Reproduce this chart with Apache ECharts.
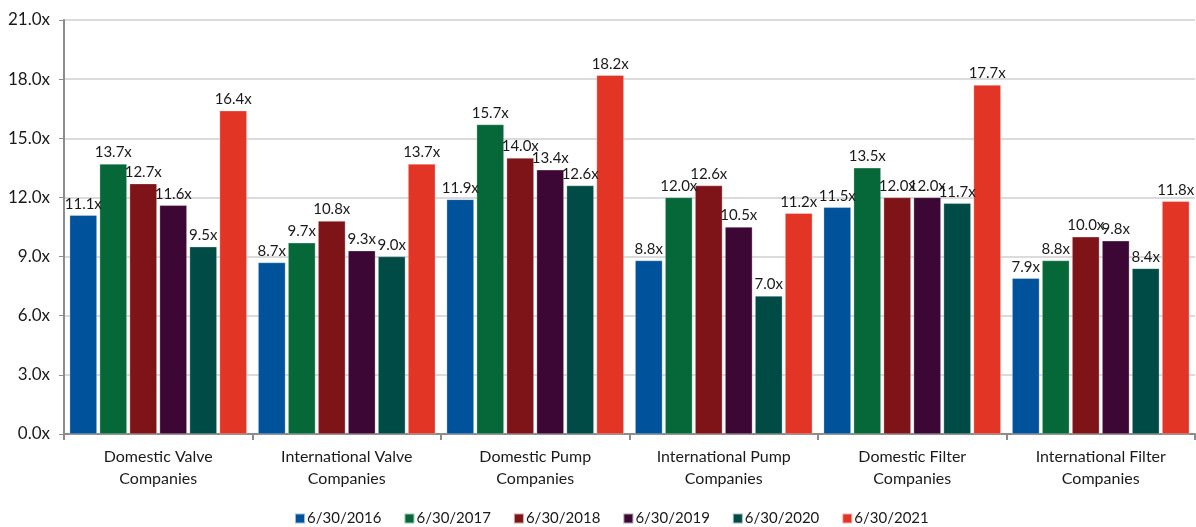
<!DOCTYPE html>
<html>
<head>
<meta charset="utf-8">
<script src="https://cdn.jsdelivr.net/npm/echarts@6/dist/echarts.min.js"></script>
<style>
  html, body { margin: 0; padding: 0; background: #ffffff; }
  #chart { width: 1196px; height: 527px; }
</style>
</head>
<body>
<div id="chart"></div>
<script>
// Valuation multiples by peer group and date
const categories = [
  'Domestic Valve\nCompanies',
  'International Valve\nCompanies',
  'Domestic Pump\nCompanies',
  'International Pump\nCompanies',
  'Domestic Filter\nCompanies',
  'International Filter\nCompanies'
];
const seriesNames = ['6/30/2016', '6/30/2017', '6/30/2018', '6/30/2019', '6/30/2020', '6/30/2021'];
const v2016 = [11.1, 8.7, 11.9, 8.8, 11.5, 7.9];
const v2017 = [13.7, 9.7, 15.7, 12.0, 13.5, 8.8];
const v2018 = [12.7, 10.8, 14.0, 12.6, 12.0, 10.0];
const v2019 = [11.6, 9.3, 13.4, 10.5, 12.0, 9.8];
const v2020 = [9.5, 9.0, 12.6, 7.0, 11.7, 8.4];
const v2021 = [16.4, 13.7, 18.2, 11.2, 17.7, 11.8];
const seriesValues = [v2016, v2017, v2018, v2019, v2020, v2021];
const colors = ['#00529b', '#066838', '#7f1418', '#3d0735', '#004b45', '#e33526'];

const FONT = 'Lato, "Open Sans", sans-serif';

const chart = echarts.init(document.getElementById('chart'));
chart.setOption({
  animation: false,
  color: colors,
  textStyle: { fontFamily: FONT, color: '#1a1a1a' },
  grid: { left: 64, right: 1, top: 20, bottom: 93, containLabel: false },
  legend: {
    bottom: -4,
    left: 289,
    itemWidth: 10,
    itemHeight: 10,
    itemGap: 22,
    icon: 'rect',
    textStyle: { fontFamily: FONT, fontSize: 15, color: '#1a1a1a', padding: [0, 0, 0, -3] },
    data: seriesNames
  },
  xAxis: {
    type: 'category',
    data: categories,
    axisLine: { lineStyle: { color: '#8c8c8c', width: 2 } },
    axisTick: { show: true, length: 6, lineStyle: { color: '#8c8c8c', width: 2 } },
    axisLabel: { fontFamily: FONT, fontSize: 16, color: '#1a1a1a', lineHeight: 22, margin: 12 }
  },
  yAxis: {
    type: 'value',
    min: 0,
    max: 21,
    interval: 3,
    axisLine: { show: true, lineStyle: { color: '#8c8c8c', width: 2 } },
    axisTick: { show: true, length: 5, lineStyle: { color: '#8c8c8c', width: 1 } },
    splitLine: { lineStyle: { color: '#cfcfcf', width: 1.5 } },
    axisLabel: {
      fontFamily: FONT, fontSize: 17, color: '#1a1a1a', margin: 14,
      formatter: v => v.toFixed(1) + 'x'
    }
  },
  series: seriesNames.map((name, i) => ({
    name: name,
    type: 'bar',
    data: seriesValues[i],
    barGap: '10%',
    barCategoryGap: '6%',
    itemStyle: { color: colors[i], borderColor: 'rgba(255,255,255,0.6)', borderWidth: 0.5 },
    label: {
      show: true,
      position: 'top',
      distance: 4,
      fontFamily: FONT,
      fontSize: 15,
      color: '#1a1a1a',
      formatter: p => p.value.toFixed(1) + 'x'
    }
  }))
});
</script>
</body>
</html>
